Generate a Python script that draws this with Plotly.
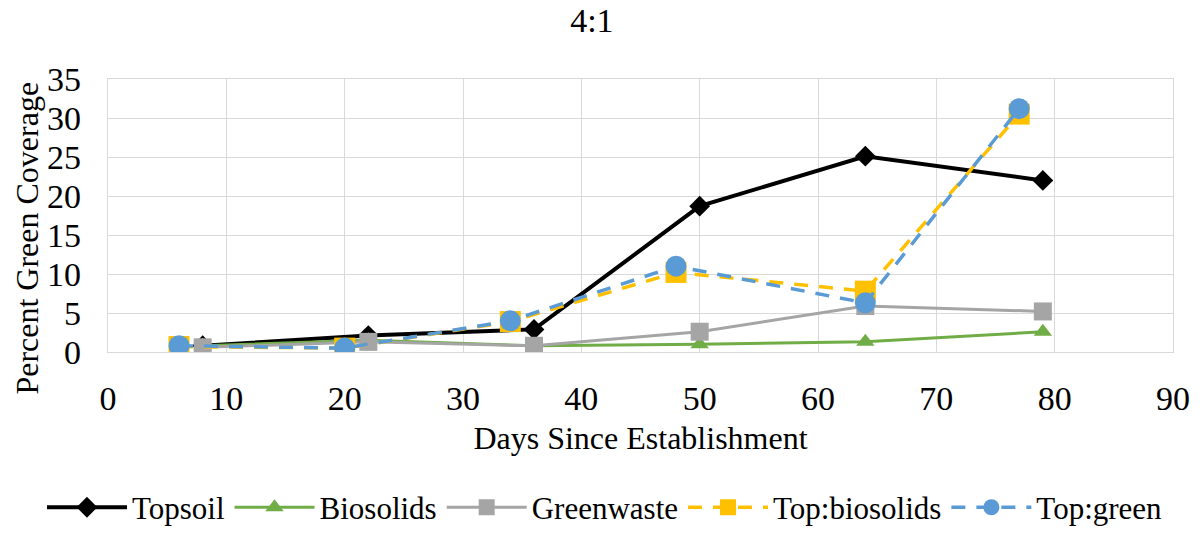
import plotly.graph_objects as go

# days since establishment
days_single = [8, 22, 36, 50, 64, 79]
days_mix = [6, 20, 34, 48, 64, 77]

# percent green coverage
topsoil = [0.8, 2.1, 2.9, 18.7, 25.1, 22.0]
biosolids = [0.8, 1.5, 0.8, 1.0, 1.3, 2.6]
greenwaste = [0.6, 1.3, 0.8, 2.6, 5.9, 5.2]
top_biosolids = [0.7, 0.5, 3.9, 10.2, 7.8, 30.5]
top_green = [0.8, 0.5, 4.0, 11.0, 6.3, 31.2]

FONT = "'Liberation Serif', 'Times New Roman', serif"
DASH = '14px,11px'

fig = go.Figure()

fig.add_trace(go.Scatter(
    x=days_single, y=topsoil, mode='lines+markers', name='Topsoil',
    line=dict(color='black', width=4),
    marker=dict(symbol='diamond', size=16, color='black')
))
fig.add_trace(go.Scatter(
    x=days_single, y=biosolids, mode='lines+markers', name='Biosolids',
    line=dict(color='#70AD47', width=3),
    marker=dict(symbol='triangle-up', size=16, color='#70AD47')
))
fig.add_trace(go.Scatter(
    x=days_single, y=greenwaste, mode='lines+markers', name='Greenwaste',
    line=dict(color='#A5A5A5', width=3),
    marker=dict(symbol='square', size=18, color='#A5A5A5')
))
fig.add_trace(go.Scatter(
    x=days_mix, y=top_biosolids, mode='lines+markers', name='Top:biosolids',
    line=dict(color='#FFC000', width=3.5, dash=DASH),
    marker=dict(symbol='square', size=21, color='#FFC000')
))
fig.add_trace(go.Scatter(
    x=days_mix, y=top_green, mode='lines+markers', name='Top:green',
    line=dict(color='#5B9BD5', width=3.5, dash=DASH),
    marker=dict(symbol='circle', size=21, color='#5B9BD5')
))

# page body has an 8px margin, so the figure sits 8px right/down in the window
fig.update_layout(
    width=1194, height=538,
    margin=dict(l=100, r=29, t=71, b=190),
    paper_bgcolor='white', plot_bgcolor='white',
    font=dict(family=FONT, size=34, color='black'),
    title=dict(text='4:1', x=0.489, xanchor='center', y=1, yanchor='top',
               font=dict(family=FONT, size=34, color='black')),
    xaxis=dict(
        range=[0, 90], dtick=10, showgrid=True, gridcolor='#D9D9D9', gridwidth=1.3,
        showline=True, linecolor='#D9D9D9', linewidth=1.3, mirror=True,
        ticks='outside', ticklen=16, tickcolor='rgba(0,0,0,0)', zeroline=False,
        automargin=False,
        title=dict(text='Days Since Establishment', standoff=10, font=dict(size=32)),
    ),
    yaxis=dict(
        range=[0, 35], dtick=5, showgrid=True, gridcolor='#D9D9D9', gridwidth=1.3,
        showline=True, linecolor='#D9D9D9', linewidth=1.3, mirror=True,
        ticks='outside', ticklen=19, tickcolor='rgba(0,0,0,0)', zeroline=False,
        automargin=False,
    ),
    annotations=[dict(
        text='Percent Green Coverage', textangle=-90, showarrow=False,
        xref='paper', yref='paper', x=-0.0761, y=0.4188,
        xanchor='center', yanchor='middle', font=dict(size=32)
    )],
    showlegend=True,
    legend=dict(orientation='h', x=-0.062, xanchor='left', y=-0.570, yanchor='middle',
                font=dict(size=31), itemwidth=80, traceorder='normal'),
)

fig.write_html('out.html')
